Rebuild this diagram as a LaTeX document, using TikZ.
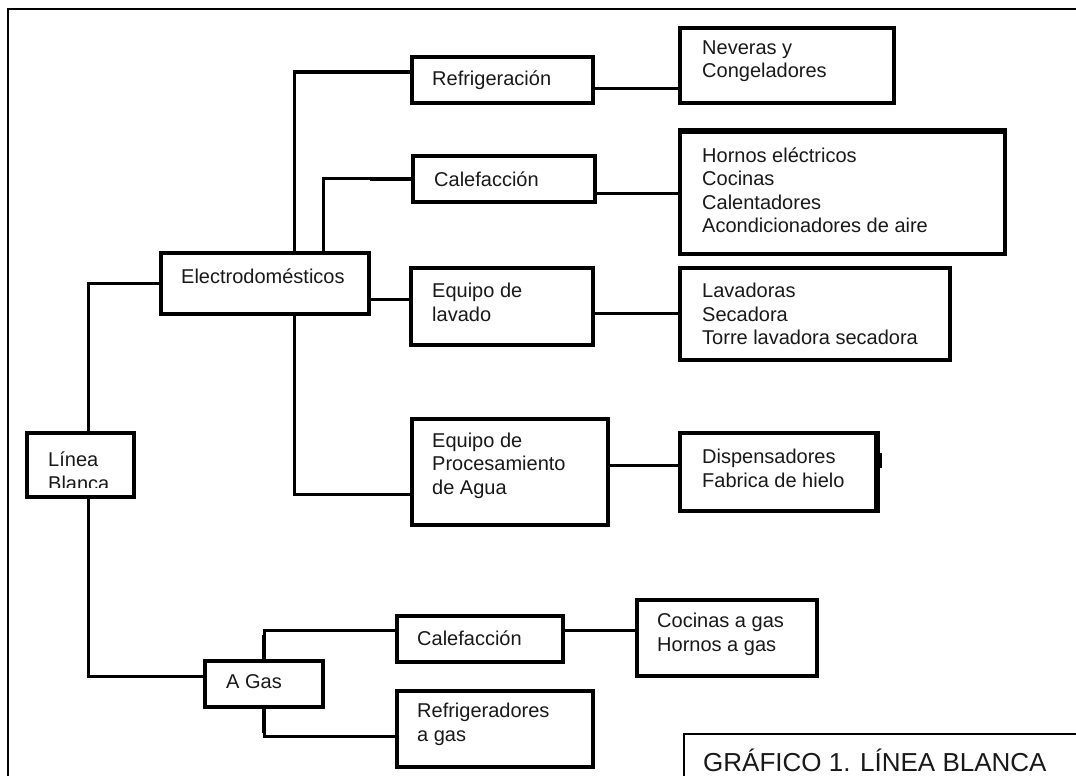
\documentclass[tikz,border=0pt]{standalone}
\usepackage{fontspec}
\setmainfont{Liberation Sans}
\begin{document}
\begin{tikzpicture}[x=1pt,y=1pt,
  box/.style={draw, line width=3.3pt, rectangle, inner sep=0pt},
  txt/.style={inner sep=0pt, align=left, anchor=west, text=black!90, font=\fontsize{20}{23.5}\selectfont},
  conn/.style={line width=3pt},
  thickconn/.style={line width=4.4pt},
  frameline/.style={line width=2.8pt}]
\useasboundingbox (0,0) rectangle (1076,-776);
\fill[white] (0,0) rectangle (1076,-776);
% outer frame (cropped)
\draw[frameline] (8,-790) -- (8,-9) -- (1090,-9);

% boxes
\node[box, minimum width=181, minimum height=46] (refrig) at (502.5,-80) {};
\node[box, minimum width=214, minimum height=75] (neveras) at (787,-65.5) {};
\node[box, minimum width=182, minimum height=46] (calef) at (504,-179) {};
\node[box, minimum width=325, minimum height=122] (hornos) at (842.5,-193) {};
\node[box, minimum width=208, minimum height=61] (electro) at (265,-283.5) {};
\node[box, minimum width=182, minimum height=77] (lavado) at (502,-306.5) {};
\node[box, minimum width=270, minimum height=92] (lavadoras) at (815,-314) {};
\node[box, minimum width=196, minimum height=106] (proc) at (510,-472) {};
\node[box, minimum width=196, minimum height=78] (disp) at (778,-472) {};
\node[box, minimum width=107, minimum height=64] (linea) at (80.5,-465) {};
\node[box, minimum width=118, minimum height=46] (agas) at (264,-684) {};
\node[box, minimum width=166, minimum height=46] (calefgas) at (480,-639) {};
\node[box, minimum width=180, minimum height=76] (cocinas) at (727,-638) {};
\node[box, minimum width=196, minimum height=76] (refgas) at (495,-729) {};
\node[box, line width=2.2pt, anchor=north west, minimum width=430, minimum height=70] (caption) at (683,-733) {};

% heavier edges as in the reference
\draw[line width=4.6pt] (hornos.north west) -- (hornos.north east);
\draw[line width=4.6pt] (disp.north east) -- (disp.south east);
\draw[line width=2.2pt] ([xshift=3.5pt,yshift=19pt]disp.east) -- ([xshift=3.5pt,yshift=4pt]disp.east);

% texts
\node[txt] (refrig-t) at (432,-80) {Refrigeración};
\node[txt] (neveras-t) at (702,-61) {Neveras y\\Congeladores};
\node[txt] (calef-t) at (434,-179) {Calefacción};
\node[txt] (hornos-t) at (702,-190) {Hornos eléctricos\\Cocinas\\Calentadores\\Acondicionadores de aire};
\node[txt] (electro-t) at (181,-276) {Electrodomésticos};
\node[txt] (lavado-t) at (432,-302.5) {Equipo de\\lavado};
\node[txt] (lavadoras-t) at (702,-314) {Lavadoras\\Secadora\\Torre lavadora secadora};
\node[txt] (proc-t) at (432,-465.5) {Equipo de\\Procesamiento\\de Agua};
\node[txt] (disp-t) at (702,-468.5) {Dispensadores\\Fabrica de hielo};
\begin{scope}
\clip (30,-436) rectangle (131,-487.5);
\node[txt] (linea-t) at (48,-471) {Línea\\Blanca};
\end{scope}
\node[txt] (agas-t) at (226,-682) {A Gas};
\node[txt] (calefgas-t) at (417,-638) {Calefacción};
\node[txt] (cocinas-t) at (657,-634.5) {Cocinas a gas\\Hornos a gas};
\node[txt] (refgas-t) at (417,-724.5) {Refrigeradores\\a gas};
\node[txt, font=\fontsize{26}{30}\selectfont] (caption-t) at (703,-760) {GRÁFICO 1. LÍNEA BLANCA};

% connectors
\draw[conn] ([xshift=7.5pt]linea.north) |- (electro.west);
\draw[conn] ([xshift=7.5pt]linea.south) |- ([yshift=8pt]agas.west);
\draw[conn] ([xshift=29pt]electro.north) |- ([yshift=8pt]refrig.west);
\draw[thickconn] ([xshift=29pt]electro.north |- refrig.west) ++(0,8) -- ([yshift=8pt]refrig.west);
\draw[conn] ([xshift=58pt]electro.north) |- ([yshift=1pt]calef.west);
\draw[thickconn] ([xshift=-41pt]calef.west) -- (calef.west);
\draw[conn] ([yshift=-15.5pt]electro.east) -- ([yshift=7.5pt]lavado.west);
\draw[conn] ([xshift=29pt]electro.south) |- ([yshift=-22pt]proc.west);
\draw[conn] ([yshift=-8pt]refrig.east) -- ([yshift=-22.5pt]neveras.west);
\draw[conn] ([yshift=-14pt]calef.east) -- (hornos.west);
\draw[conn] ([yshift=-6.5pt]lavado.east) -- ([yshift=1pt]lavadoras.west);
\draw[conn] ([yshift=7pt]proc.east) -- ([yshift=7pt]disp.west);
\draw[conn] (agas.north) |- ([yshift=9pt]calefgas.west);
\draw[thickconn] (agas.north) -- ++(0,24);
\draw[conn] (agas.south) |- ([yshift=-7pt]refgas.west);
\draw[thickconn] (agas.south) -- ++(0,-24);
\draw[conn] ([yshift=9pt]calefgas.east) -- ([yshift=8pt]cocinas.west);
\end{tikzpicture}
\end{document}
